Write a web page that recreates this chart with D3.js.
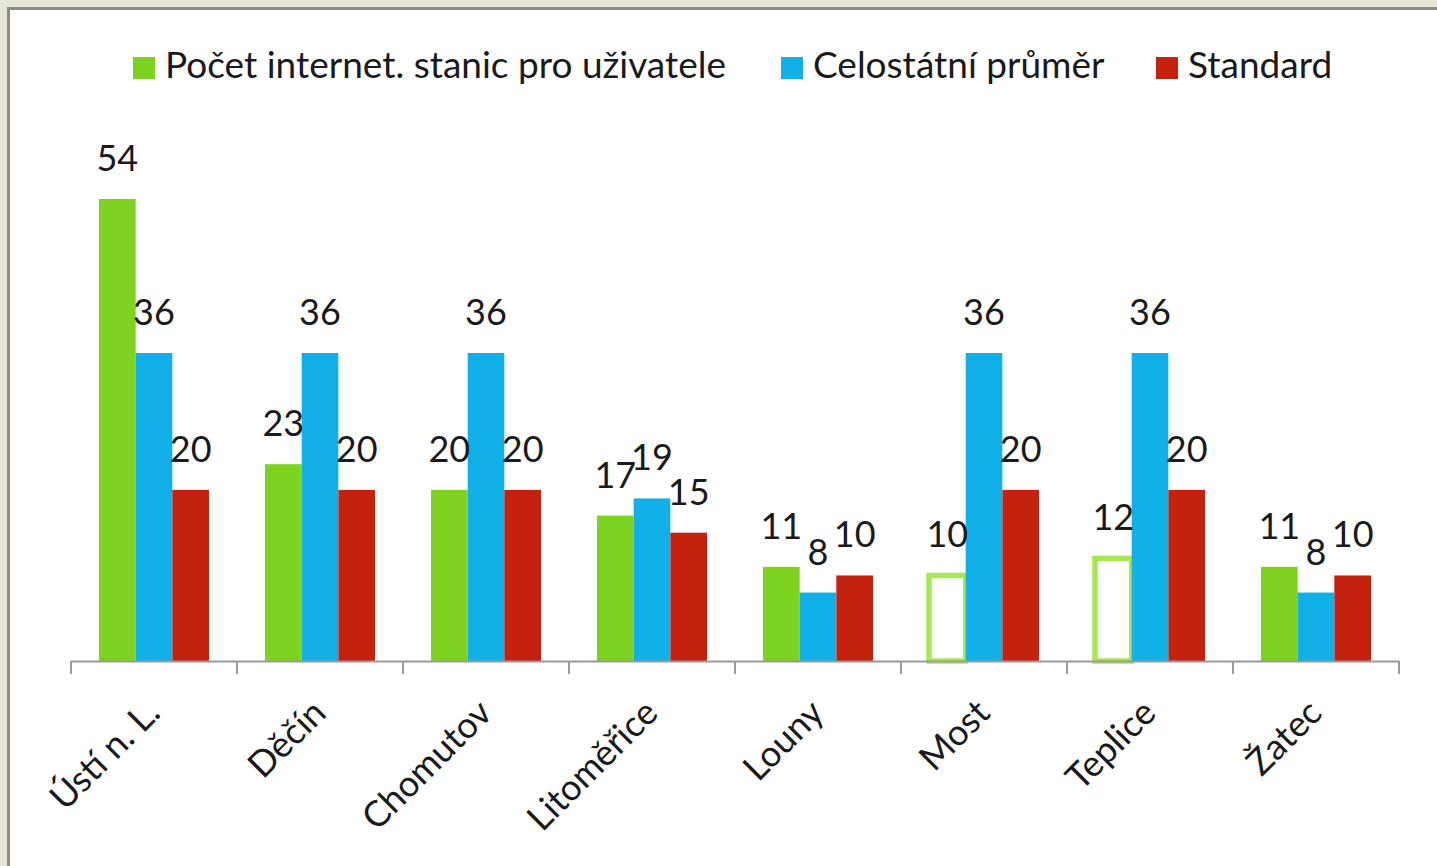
<!DOCTYPE html>
<html><head><meta charset="utf-8">
<script src="https://cdn.jsdelivr.net/npm/d3@7"></script>
<style>html,body{margin:0;padding:0;background:#e6e5d6;overflow:hidden}</style>
</head><body>
<svg id="c" width="1437" height="866"></svg>
<script>
const categories = ["Ústí n. L.", "Děčín", "Chomutov", "Litoměřice", "Louny", "Most", "Teplice", "Žatec"];
const seriesNames = ["Počet internet. stanic pro uživatele", "Celostátní průměr", "Standard"];
const stations = [54, 23, 20, 17, 11, 10, 12, 11];
const national = [36, 36, 36, 19, 8, 36, 36, 8];
const standard = [20, 20, 20, 15, 10, 20, 20, 10];
const outlined = ["Most", "Teplice"]; // categories whose first-series bar is drawn hollow
const colors = ["#7ed321", "#12b0e8", "#c4220f"];
const seriesValues = [stations, national, standard];

const W = 1437, H = 866;
const svg = d3.select("#c");
const FONT = "Lato, 'Open Sans', sans-serif";

svg.append("rect").attr("x",0).attr("y",0).attr("width",W).attr("height",H).attr("fill","#e6e5d6");
svg.append("rect").attr("x",8.5).attr("y",8.5).attr("width",W).attr("height",H).attr("fill","#ffffff")
  .attr("stroke","#8c8c8c").attr("stroke-width",3);

const x0 = d3.scaleBand().domain(categories).range([71, 1399]).paddingInner(0).paddingOuter(0);
const x1 = d3.scaleBand().domain(seriesNames).range([0, x0.bandwidth()]).paddingInner(0).paddingOuter(0.764);
const y = d3.scaleLinear().domain([0, 54]).range([661, 199]);

const data = [];
categories.forEach((c, i) => seriesNames.forEach((s, j) => data.push({c, s, j, v: seriesValues[j][i]})));

const g = svg.append("g");
g.selectAll("rect.bar").data(data).join("rect")
  .attr("class","bar")
  .attr("x", d => x0(d.c) + x1(d.s))
  .attr("y", d => y(d.v))
  .attr("width", x1.bandwidth())
  .attr("height", d => y(0) - y(d.v))
  .attr("fill", d => (d.j === 0 && outlined.includes(d.c)) ? "#ffffff" : colors[d.j])
  .attr("stroke", d => (d.j === 0 && outlined.includes(d.c)) ? "#a6e853" : "none")
  .attr("stroke-width", 5.5);

svg.append("line").attr("x1",71).attr("x2",1399).attr("y1",661.5).attr("y2",661.5)
  .attr("stroke","#9a9a9a").attr("stroke-width",2);
const tickXs = categories.map(c => x0(c)).concat([x0(categories[categories.length-1]) + x0.bandwidth()]);
svg.selectAll("line.tick").data(tickXs).join("line").attr("class","tick")
  .attr("x1", d => d).attr("x2", d => d).attr("y1", 661).attr("y2", 674)
  .attr("stroke","#9a9a9a").attr("stroke-width",2);

g.selectAll("text.val").data(data).join("text").attr("class","val")
  .attr("x", d => x0(d.c) + x1(d.s) + x1.bandwidth()/2)
  .attr("y", d => y(d.v) - 28)
  .attr("text-anchor","middle")
  .attr("font-family", FONT).attr("font-size", 36).attr("fill","#1a1a1a")
  .text(d => d.v);

svg.selectAll("text.cat").data(categories).join("text").attr("class","cat")
  .attr("transform", c => `translate(${x0(c) + x0.bandwidth()/2 + 8},${715}) rotate(-45)`)
  .attr("text-anchor","end")
  .attr("font-family", FONT).attr("font-size", 36).attr("fill","#1a1a1a")
  .text(c => c);

const legX = [133, 781, 1156];
const leg = svg.selectAll("g.leg").data(seriesNames).join("g").attr("class","leg")
  .attr("transform", (d,i) => `translate(${legX[i]},57)`);
leg.append("rect").attr("width",22).attr("height",22).attr("fill",(d,i)=>colors[i]);
leg.append("text").attr("x",32).attr("y",21)
  .attr("font-family", FONT).attr("font-size", 37).attr("fill","#1a1a1a")
  .text(d => d);
</script>
</body></html>
